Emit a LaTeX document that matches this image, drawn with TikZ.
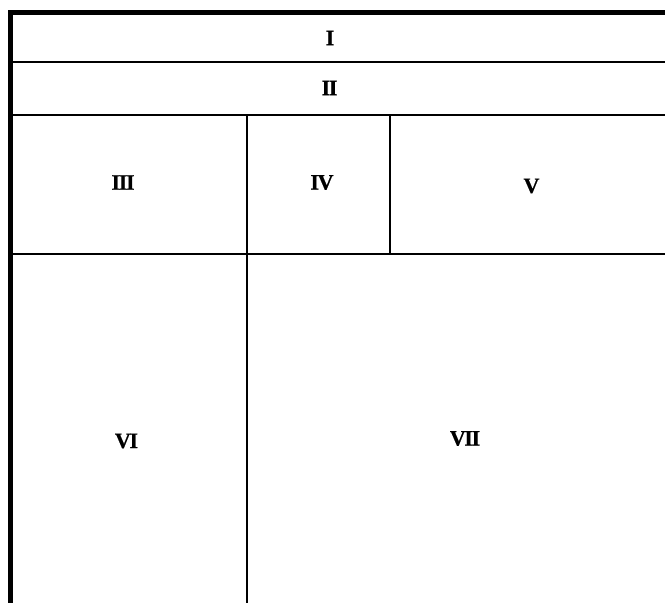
\documentclass[tikz,border=0pt]{standalone}
\usepackage{fontspec}
\setmainfont{Liberation Serif}
\newfontfamily\cellfont[LetterSpace=-6, FakeBold=0.6]{Liberation Serif Bold}
\usepackage{tikz}
\usetikzlibrary{positioning,calc}
\tikzset{
  frame/.style={line width=5pt, line join=miter},
  rule/.style={line width=2pt},
  cell/.style={inner sep=0pt, font=\fontsize{22}{24}\selectfont\cellfont},
}
\begin{document}
\begin{tikzpicture}[x=1pt, y=-1pt]
\useasboundingbox (0,0) rectangle (665,603);
% grid points
\coordinate (tl) at (10.5,12.5);
\coordinate (tr) at (665,12.5);
\coordinate (bl) at (10.5,603);
\coordinate (aL) at (10.5,62);    \coordinate (aR) at (665,62);
\coordinate (bL) at (10.5,114.5); \coordinate (bR) at (665,114.5);
\coordinate (cL) at (10.5,253.5); \coordinate (cR) at (665,253.5);
\coordinate (v1t) at (247,114.5); \coordinate (v1b) at (247,603);
\coordinate (v2t) at (390,114.5); \coordinate (v2b) at (390,253.5);
% outer frame
\draw[frame] (bl) -- (tl) -- (tr);
% rows and columns
\draw[rule] (aL) -- (aR);
\draw[rule] (bL) -- (bR);
\draw[rule] (cL) -- (cR);
\draw[rule] (v1t) -- (v1b);
\draw[rule] (v2t) -- (v2b);
% cell labels
\node[cell] (lblI)   at (330,38)    {I};
\node[cell] (lblII)  at (329.5,88)  {II};
\node[cell] (lblIII) at (123,182.5) {III};
\node[cell] (lblIV)  at (322,182.5) {IV};
\node[cell] (lblV)   at (531.5,186) {V};
\node[cell] (lblVI)  at (126.5,441) {VI};
\node[cell] (lblVII) at (465,438.5) {VII};
\end{tikzpicture}
\end{document}
